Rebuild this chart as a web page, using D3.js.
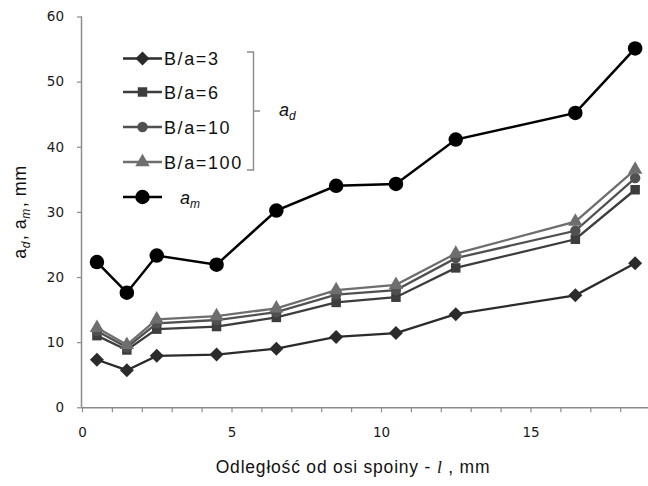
<!DOCTYPE html>
<html>
<head>
<meta charset="utf-8">
<script src="https://cdn.jsdelivr.net/npm/d3@7"></script>
<style>
  body { margin: 0; background: #fff; }
  text { font-family: "Liberation Sans", Arial, sans-serif; }
  .tick text { font-family: "DejaVu Sans", Verdana, sans-serif; font-size: 13.5px; fill: #1a1a1a; }
</style>
</head>
<body>
<div id="chart"></div>
<script>
// dane
const distances = [0.5, 1.5, 2.5, 4.5, 6.5, 8.5, 10.5, 12.5, 16.5, 18.5];
const adB3   = [7.3, 5.7, 7.9, 8.1, 9.0, 10.8, 11.4, 14.3, 17.2, 22.1];
const adB6   = [11.0, 8.8, 12.0, 12.4, 13.8, 16.1, 16.9, 21.4, 25.8, 33.4];
const adB10  = [11.7, 9.2, 12.9, 13.4, 14.6, 17.3, 18.0, 22.9, 27.1, 35.2];
const adB100 = [12.2, 9.6, 13.5, 14.0, 15.2, 18.0, 18.8, 23.6, 28.5, 36.5];
const am     = [22.3, 17.6, 23.3, 21.9, 30.2, 34.0, 34.3, 41.1, 45.2, 55.1];

const seriesNames = ['B/a=3', 'B/a=6', 'B/a=10', 'B/a=100'];
const xTicks = d3.range(0, 19);
const xTickLabels = [0, 5, 10, 15];
const yTicks = [0, 10, 20, 30, 40, 50, 60];

const WIDTH = 648
const HEIGHT = 486
const margin = {top: 16.5, right: 0, bottom: 78.7, left: 82};

const width = WIDTH - margin.left - margin.right;
const height = HEIGHT - margin.top - margin.bottom;

const svg = d3.select('#chart')
    .append('svg')
        .attr('width', WIDTH)
        .attr('height', HEIGHT);

const container = svg.append('g')
    .attr('transform', `translate(${margin.left},${margin.top})`);

// skala x: 29.9 px na 1 mm, wykres przycięty z prawej strony
const xscale = d3.scaleLinear()
    .domain([0, width / 29.9])
    .range([0, width]);

const yscale = d3.scaleLinear()
    .domain([0, 60])
    .range([height, 0]);

// osie
const axisBottom = d3.axisBottom(xscale)
    .tickValues(xTicks)
    .tickSize(5)
    .tickPadding(15)
    .tickFormat(d => xTickLabels.includes(d) ? d : '');
const axisLeft = d3.axisLeft(yscale)
    .tickValues(yTicks)
    .tickSize(5)
    .tickPadding(13);

const xAxis = container.append('g')
    .attr('transform', `translate(0, ${height})`)
    .call(axisBottom);
const yAxis = container.append('g').call(axisLeft);

[xAxis, yAxis].forEach(ax => {
    ax.select('.domain').attr('stroke', '#8c8c8c').attr('stroke-width', 1.5);
    ax.selectAll('.tick line').attr('stroke', '#8c8c8c').attr('stroke-width', 1.2);
});
xAxis.select('.domain').attr('d', `M0,0.5H${width}`);
yAxis.select('.domain').attr('d', `M-0.5,${height}V0`);

// serie
const series = [
    {name: seriesNames[0], values: adB3,   color: '#2b2b2b', symbol: d3.symbolDiamond2, size: 125},
    {name: seriesNames[1], values: adB6,   color: '#3d3d3d', symbol: d3.symbolSquare,   size: 90},
    {name: seriesNames[2], values: adB10,  color: '#505050', symbol: d3.symbolCircle,   size: 85},
    {name: seriesNames[3], values: adB100, color: '#6e6e6e', symbol: d3.symbolTriangle, size: 90},
    {name: 'am',           values: am,     color: '#000000', symbol: d3.symbolCircle,   size: 165}
];

const line = d3.line()
    .x(d => xscale(d[0]))
    .y(d => yscale(d[1]));

series.forEach(s => {
    const pts = distances.map((x, i) => [x, s.values[i]]);
    const g = container.append('g');
    g.append('path')
        .attr('d', line(pts))
        .attr('fill', 'none')
        .attr('stroke', s.color)
        .attr('stroke-width', s.name === 'am' ? 2.5 : 2.3);
    g.selectAll('path.marker').data(pts).enter().append('path')
        .attr('class', 'marker')
        .attr('transform', d => `translate(${xscale(d[0])},${yscale(d[1])})`)
        .attr('d', d3.symbol().type(s.symbol).size(s.size))
        .attr('fill', s.color);
});

// legenda
const legend = svg.append('g');
const legendY = [58.5, 92, 127, 162, 197];
series.forEach((s, i) => {
    const y = legendY[i];
    legend.append('line')
        .attr('x1', 123).attr('x2', 162)
        .attr('y1', y).attr('y2', y)
        .attr('stroke', s.color)
        .attr('stroke-width', s.name === 'am' ? 2.5 : 2.3);
    legend.append('path')
        .attr('transform', `translate(142.5,${y})`)
        .attr('d', d3.symbol().type(s.symbol).size(s.size))
        .attr('fill', s.color);
    if (s.name !== 'am') {
        legend.append('text')
            .attr('x', 164)
            .attr('y', y + 6.5)
            .attr('font-size', '18px')
            .attr('letter-spacing', '1.6px')
            .attr('fill', '#111')
            .text(s.name);
    }
});
const amLabel = legend.append('text')
    .attr('x', 180)
    .attr('y', 204)
    .attr('font-size', '18px')
    .attr('font-style', 'italic')
    .attr('fill', '#111');
amLabel.append('tspan').text('a');
amLabel.append('tspan').attr('font-size', '12px').attr('dy', 4).text('m');

// klamra a_d
legend.append('path')
    .attr('d', 'M247,52H253.5V170H247M253.5,111H260')
    .attr('fill', 'none')
    .attr('stroke', '#8c8c8c')
    .attr('stroke-width', 1.4);
const adLabel = legend.append('text')
    .attr('x', 279)
    .attr('y', 116)
    .attr('font-size', '18px')
    .attr('font-style', 'italic')
    .attr('fill', '#111');
adLabel.append('tspan').text('a');
adLabel.append('tspan').attr('font-size', '12px').attr('dy', 4).text('d');

// tytuły osi
const xTitle = svg.append('text')
    .attr('x', 353)
    .attr('y', 473)
    .attr('text-anchor', 'middle')
    .attr('font-size', '17.5px')
    .attr('letter-spacing', '0.8px')
    .attr('fill', '#111');
xTitle.append('tspan').text('Odległość od osi spoiny - ');
xTitle.append('tspan').attr('font-family', '"Liberation Serif", serif').attr('font-style', 'italic').text('l');
xTitle.append('tspan').text(' , mm');

const yTitle = svg.append('text')
    .attr('transform', 'translate(26,212) rotate(-90)')
    .attr('text-anchor', 'middle')
    .attr('font-size', '18px')
    .attr('letter-spacing', '0.5px')
    .attr('fill', '#111');
yTitle.append('tspan').text('a');
yTitle.append('tspan').attr('font-size', '12px').attr('dy', 4).attr('font-style', 'italic').text('d');
yTitle.append('tspan').attr('dy', -4).attr('dx', 1).text(', a');
yTitle.append('tspan').attr('font-size', '12px').attr('dy', 4).attr('font-style', 'italic').text('m');
yTitle.append('tspan').attr('dy', -4).attr('dx', 1).text(', mm');
</script>
</body>
</html>
